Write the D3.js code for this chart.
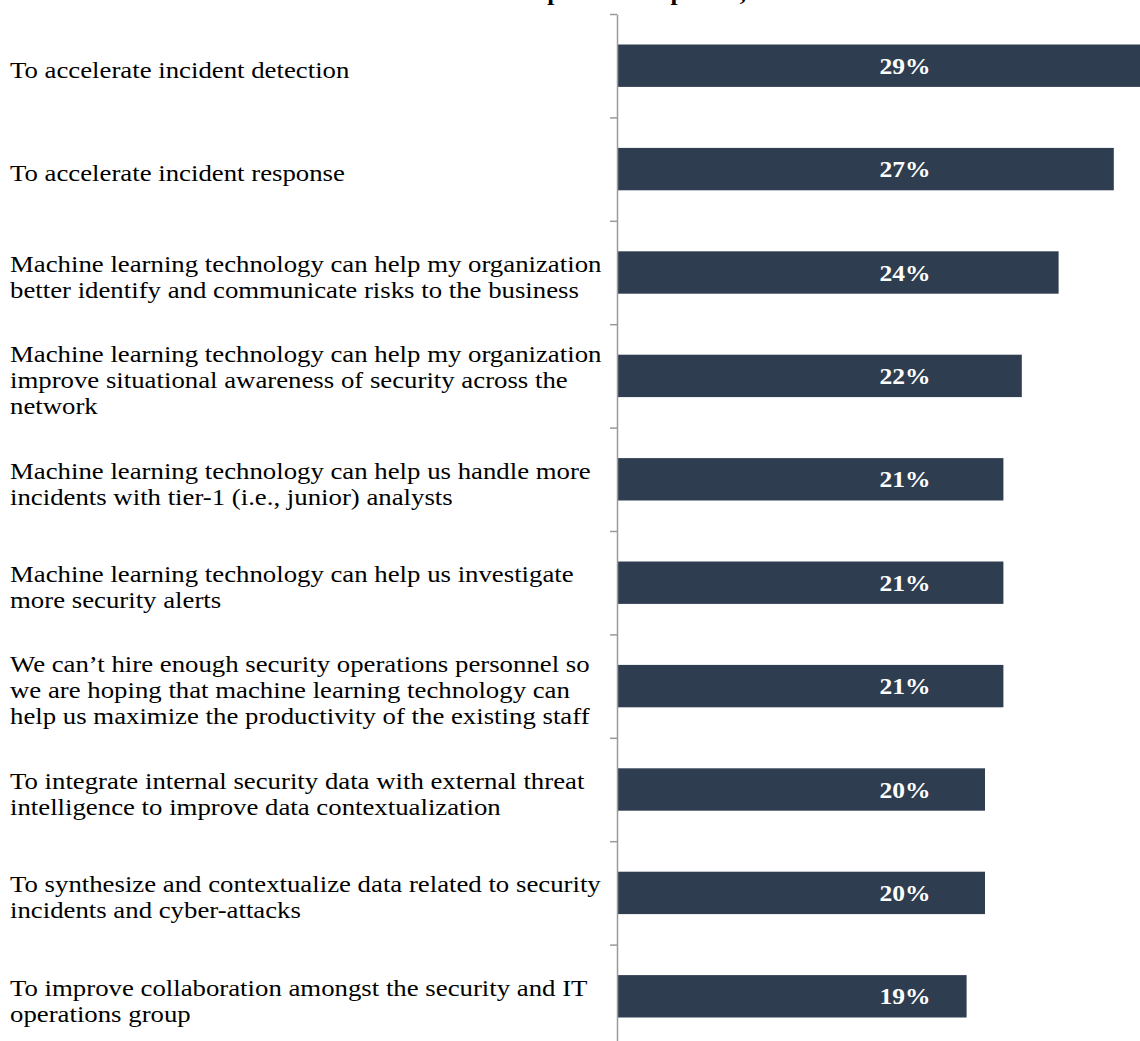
<!DOCTYPE html>
<html>
<head>
<meta charset="utf-8">
<script src="https://cdn.jsdelivr.net/npm/d3@7"></script>
<style>
  html, body { margin: 0; padding: 0; background: #ffffff; overflow: hidden; }
  svg { display: block; }
</style>
</head>
<body>
<svg id="chart" width="1140" height="1041"></svg>
<script>
// ---- data ----
const categories = [
  "To accelerate incident detection",
  "To accelerate incident response",
  "Machine learning technology can help my organization better identify and communicate risks to the business",
  "Machine learning technology can help my organization improve situational awareness of security across the network",
  "Machine learning technology can help us handle more incidents with tier-1 (i.e., junior) analysts",
  "Machine learning technology can help us investigate more security alerts",
  "We can\u2019t hire enough security operations personnel so we are hoping that machine learning technology can help us maximize the productivity of the existing staff",
  "To integrate internal security data with external threat intelligence to improve data contextualization",
  "To synthesize and contextualize data related to security incidents and cyber-attacks",
  "To improve collaboration amongst the security and IT operations group"
];
const categoryLines = [
  ["To accelerate incident detection"],
  ["To accelerate incident response"],
  ["Machine learning technology can help my organization", "better identify and communicate risks to the business"],
  ["Machine learning technology can help my organization", "improve situational awareness of security across the", "network"],
  ["Machine learning technology can help us handle more", "incidents with tier-1 (i.e., junior) analysts"],
  ["Machine learning technology can help us investigate", "more security alerts"],
  ["We can\u2019t hire enough security operations personnel so", "we are hoping that machine learning technology can", "help us maximize the productivity of the existing staff"],
  ["To integrate internal security data with external threat", "intelligence to improve data contextualization"],
  ["To synthesize and contextualize data related to security", "incidents and cyber-attacks"],
  ["To improve collaboration amongst the security and IT", "operations group"]
];
const values = [29, 27, 24, 22, 21, 21, 21, 20, 20, 19];
const valueLabels = ["29%", "27%", "24%", "22%", "21%", "21%", "21%", "20%", "20%", "19%"];
const titleText = "Main drivers that help firms adopt ML,";

// ---- layout ----
const svg = d3.select("#chart");
const axisX = 617;
const yTop = 14, yBottom = 1048;
const stretch = 1.14;

const y = d3.scaleBand()
  .domain(categories)
  .range([yTop, yBottom])
  .paddingInner(0.59)
  .paddingOuter(0.295);

const x = d3.scaleLinear().domain([0, 30]).range([axisX, axisX + 552]);

const serif = "'Times New Roman', 'Liberation Serif', 'DejaVu Serif', serif";

// clipped title (only descenders visible, as in the reference)
svg.append("g")
  .attr("transform", `translate(746,0) scale(1.05,1)`)
  .append("text")
  .attr("x", 0)
  .attr("y", 0)
  .attr("text-anchor", "end")
  .attr("font-family", serif)
  .attr("font-weight", "bold")
  .attr("font-size", 24)
  .attr("fill", "#000")
  .text(titleText);

// bars
svg.append("g").selectAll("rect")
  .data(categories)
  .join("rect")
  .attr("x", x(0))
  .attr("y", d => y(d))
  .attr("width", (d, i) => x(values[i]) - x(0))
  .attr("height", y.bandwidth())
  .attr("fill", "#2e3e50");

// axis at band boundaries
const boundary = d3.scaleLinear().domain([0, categories.length]).range([yTop, yBottom]);
const axisG = svg.append("g")
  .attr("transform", `translate(${axisX},0)`)
  .call(d3.axisLeft(boundary)
    .tickValues(d3.range(0, categories.length + 1))
    .tickFormat("")
    .tickSize(7)
    .tickSizeOuter(0));
axisG.select(".domain").attr("stroke", "#9a9a9a").attr("stroke-width", 1.5);
axisG.selectAll(".tick line").attr("stroke", "#9a9a9a").attr("stroke-width", 1.5);

// value labels
const labelX = 905;
svg.append("g")
  .attr("transform", `translate(${labelX},0) scale(1.11,1)`)
  .selectAll("text")
  .data(categories)
  .join("text")
  .attr("x", 0)
  .attr("y", d => y(d) + y.bandwidth() / 2)
  .attr("dy", "0.35em")
  .attr("text-anchor", "middle")
  .attr("font-family", serif)
  .attr("font-weight", "bold")
  .attr("font-size", 23)
  .attr("fill", "#ffffff")
  .text((d, i) => valueLabels[i]);

// category labels
const lineH = 26;
const lab = svg.append("g")
  .attr("transform", `translate(10,4) scale(${stretch},1)`)
  .selectAll("text")
  .data(categories)
  .join("text")
  .attr("font-family", serif)
  .attr("font-size", 23.5)
  .attr("fill", "#000")
  .attr("y", (d, i) => y(d) + y.bandwidth() / 2 - (categoryLines[i].length - 1) * lineH / 2);
lab.each(function(d, i) {
  const t = d3.select(this);
  const y0 = +t.attr("y");
  categoryLines[i].forEach((ln, k) => {
    t.append("tspan")
      .attr("x", 0)
      .attr("y", y0 + k * lineH)
      .attr("dy", "0.35em")
      .text(ln);
  });
});
</script>
</body>
</html>
